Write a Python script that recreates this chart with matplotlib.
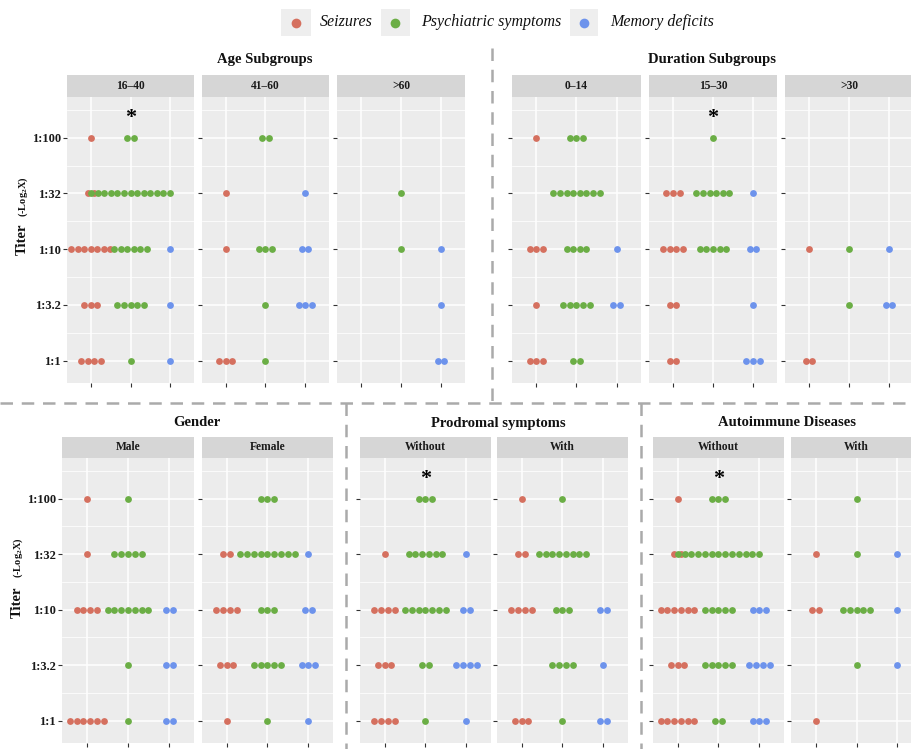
import numpy as np
import matplotlib
matplotlib.use('Agg')
import matplotlib.pyplot as plt
from matplotlib.lines import Line2D
from matplotlib.patches import Rectangle

plt.rcParams['font.family'] = ['Liberation Serif', 'DejaVu Serif']
plt.rcParams['mathtext.fontset'] = 'custom'
plt.rcParams['mathtext.rm'] = 'Liberation Serif:bold'
plt.rcParams['mathtext.default'] = 'rm'

W, H = 912, 749

titers = ['1:1', '1:3.2', '1:10', '1:32', '1:100']
symptoms = ['Seizures', 'Psychiatric symptoms', 'Memory deficits']
colors = ['#D5705F', '#6BAE45', '#6D93EC']

# patient counts per titer (1:1 -> 1:100), rows: seizures, psychiatric, memory
age_16_40 = [[4, 3, 7, 2, 1], [1, 5, 6, 13, 2], [1, 1, 1, 0, 0]]
age_41_60 = [[3, 0, 1, 1, 0], [1, 1, 3, 0, 2], [0, 3, 2, 1, 0]]
age_60 = [[0, 0, 0, 0, 0], [0, 0, 1, 1, 0], [2, 1, 1, 0, 0]]
dur_0_14 = [[3, 1, 3, 0, 1], [2, 5, 4, 8, 3], [0, 2, 1, 0, 0]]
dur_15_30 = [[2, 2, 4, 3, 0], [0, 0, 5, 6, 1], [3, 1, 2, 1, 0]]
dur_30 = [[2, 0, 1, 0, 0], [0, 1, 1, 0, 0], [0, 2, 1, 0, 0]]
male = [[6, 0, 4, 1, 1], [1, 1, 7, 5, 1], [2, 2, 2, 0, 0]]
female = [[1, 3, 4, 2, 0], [1, 5, 3, 9, 3], [1, 3, 2, 1, 0]]
prod_without = [[4, 3, 4, 1, 0], [1, 2, 7, 6, 3], [1, 4, 2, 1, 0]]
prod_with = [[3, 0, 4, 2, 1], [1, 4, 3, 8, 1], [2, 1, 2, 0, 0]]
auto_without = [[6, 3, 6, 2, 1], [2, 5, 5, 13, 3], [3, 4, 3, 0, 0]]
auto_with = [[1, 0, 2, 1, 0], [0, 1, 5, 1, 1], [0, 1, 1, 1, 0]]

STEP = 0.165  # dot spacing in x data units

fig = plt.figure(figsize=(W / 100, H / 100), dpi=100)


def px_axes(x0, x1, top, bottom):
   return fig.add_axes([x0 / W, 1 - bottom / H, (x1 - x0) / W, (bottom - top) / H])


def draw_panel(label, counts, x0, x1, top, bottom, strip_top, labels=False, star=False):
   # facet strip
   sax = px_axes(x0, x1, strip_top, top)
   sax.set_facecolor('#D6D6D6')
   sax.set_xticks([]); sax.set_yticks([])
   for s in sax.spines.values():
      s.set_visible(False)
   sax.text(0.5, 0.5, label, ha='center', va='center', fontsize=8.3, fontweight='bold',
            color='#1A1A1A', transform=sax.transAxes)

   ax = px_axes(x0, x1, top, bottom)
   ax.set_facecolor('#ECECEC')
   for s in ax.spines.values():
      s.set_visible(False)
   ax.set_xlim(0.4, 3.6)
   ax.set_ylim(0.6, 5.73)
   ax.set_xticks([1, 2, 3])
   ax.set_xticklabels([])
   ax.set_yticks(range(1, 6))
   ax.set_yticks(np.arange(1.5, 6, 1), minor=True)
   ax.tick_params(axis='y', which='minor', length=0)
   ax.tick_params(which='major', length=3, width=0.8, color='#333333', pad=1.5)
   if labels:
      ax.set_yticklabels(titers, fontsize=9, fontweight='bold', color='#1A1A1A')
   else:
      ax.set_yticklabels([])
   ax.grid(which='major', color='white', lw=1.1)
   ax.grid(which='minor', axis='y', color='white', lw=0.55)
   ax.set_axisbelow(True)

   for j, row in enumerate(counts):
      for k, n in enumerate(row):
         if n == 0:
            continue
         xs = (j + 1) + (np.arange(n) - (n - 1) / 2) * STEP
         ax.plot(xs, np.full(n, k + 1), 'o', ms=4.9, color=colors[j], mec='none',
                 zorder=3, clip_on=False)
   if star:
      ax.text(2, 5.36, '*', ha='center', va='center', fontsize=16, fontweight='bold')
   return ax


# top row
T_STRIP, T_TOP, T_BOT = 75, 97, 383
draw_panel('16\u201340', age_16_40, 67, 194, T_TOP, T_BOT, T_STRIP, labels=True, star=True)
draw_panel('41\u201360', age_41_60, 202, 329, T_TOP, T_BOT, T_STRIP)
draw_panel('>60', age_60, 337, 465, T_TOP, T_BOT, T_STRIP)
draw_panel('0\u201314', dur_0_14, 512, 641, T_TOP, T_BOT, T_STRIP)
draw_panel('15\u201330', dur_15_30, 649, 777, T_TOP, T_BOT, T_STRIP, star=True)
draw_panel('>30', dur_30, 785, 913, T_TOP, T_BOT, T_STRIP)

# bottom row
B_STRIP, B_TOP, B_BOT = 437, 458, 743
draw_panel('Male', male, 62, 194, B_TOP, B_BOT, B_STRIP, labels=True)
draw_panel('Female', female, 202, 333, B_TOP, B_BOT, B_STRIP)
draw_panel('Without', prod_without, 360, 491, B_TOP, B_BOT, B_STRIP, star=True)
draw_panel('With', prod_with, 497, 628, B_TOP, B_BOT, B_STRIP)
draw_panel('Without', auto_without, 653, 784, B_TOP, B_BOT, B_STRIP, star=True)
draw_panel('With', auto_with, 791, 922, B_TOP, B_BOT, B_STRIP)

# group titles
for txt, x, y in [('Age Subgroups', 265, 60), ('Duration Subgroups', 712, 60),
                  ('Gender', 197, 423), ('Prodromal symptoms', 498, 424),
                  ('Autoimmune Diseases', 787, 423)]:
   fig.text(x / W, 1 - y / H, txt, ha='center', va='center', fontsize=10.5,
            fontweight='bold', color='#111111')

# y axis titles
for xt, yt, xl, yl in [(22, 239, 23, 197), (17, 602, 18, 558)]:
   fig.text(xt / W, 1 - yt / H, 'Titer', rotation=90, ha='center', va='center',
            fontsize=10.5, fontweight='bold', color='#111111')
   fig.text(xl / W, 1 - yl / H, '(-Log$_2$X)', rotation=90, ha='center', va='center',
            fontsize=7.5, fontweight='bold', color='#111111')

# dashed separators
dash = dict(color='#AAAAAA', lw=1.8, ls=(0, (5, 3.5)))
for (xa, ya), (xb, yb) in [((492, 48), (492, 403)), ((0, 403), (912, 403)),
                           ((346, 403), (346, 749)), ((641, 403), (641, 749))]:
   fig.add_artist(Line2D([xa / W, xb / W], [1 - ya / H, 1 - yb / H], **dash))

# legend
for (bx0, bx1, tx), name, c in zip([(281, 311, 320), (381, 410, 421), (570, 598, 610)],
                                   symptoms, colors):
   fig.add_artist(Rectangle((bx0 / W, 1 - 36 / H), (bx1 - bx0) / W, 27 / H,
                            transform=fig.transFigure, facecolor='#EEEEEE', edgecolor='none'))
   fig.add_artist(Line2D([(bx0 + bx1) / 2 / W], [1 - 22.5 / H], marker='o', ms=7,
                         color=c, mec='none', ls='none'))
   fig.text(tx / W, 1 - 22.5 / H, name, ha='left', va='center', fontsize=11.5,
            fontstyle='italic', color='#111111')

fig.savefig('out.png', dpi=100)
